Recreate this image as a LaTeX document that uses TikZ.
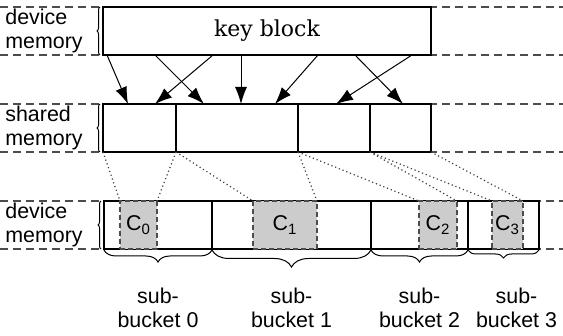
\documentclass[tikz,border=0pt]{standalone}
\usepackage{fontspec}
\setmainfont{Liberation Sans}
\newfontfamily\keyfont{DejaVu Serif}
\usepackage{tikz}
\usetikzlibrary{arrows.meta, calc, decorations.pathreplacing, positioning}
\definecolor{RuleGray}{gray}{0.30}
\definecolor{ChunkGray}{gray}{0.80}
\definecolor{DotGray}{gray}{0.25}
\tikzset{%
  mem_block/.style={%
    rectangle,%
    draw=black,%
    line width=0.7pt,%
    minimum height=24pt,%
    inner sep=0pt,%
    outer sep=0pt,%
    anchor=west,%
  },
  mem_chunk/.style={%
    rectangle,%
    draw=RuleGray,%
    fill=ChunkGray,%
    dash pattern=on 2.5pt off 1.5pt,%
    line width=0.7pt,%
    minimum height=24pt,%
    inner sep=0pt,%
    outer sep=0pt,%
    font={\fontsize{10.7pt}{12pt}\selectfont},%
  },
  mem_label/.style={%
    anchor=west,%
    inner sep=0pt,%
    align=left,%
    font={\fontsize{10.7pt}{12pt}\selectfont},%
  },
  bucket_label/.style={%
    inner sep=0pt,%
    align=center,%
    font={\fontsize{10.7pt}{12pt}\selectfont},%
  },
  guide_line/.style={%
    color=RuleGray,%
    line width=0.7pt,%
    dash pattern=on 4pt off 2.5pt,%
  },
  mem_arrow/.style={%
    color=black,%
    line width=0.5pt,%
  },
  map_path/.style={%
    color=DotGray,%
    line width=0.6pt,%
    dash pattern=on 0.6pt off 1.4pt,%
  },
  side_brace/.style={%
    decorate,%
    decoration={brace, amplitude=1.5pt, raise=1.5pt},%
    line width=0.5pt,%
  },
  sub_brace/.style={%
    decorate,%
    line width=0.5pt,%
  },
  arrow/.style={-{Latex[length=8.5pt, width=6pt]}},
}
\begin{document}
\begin{tikzpicture}[x=0.5pt, y=-0.5pt]

  \useasboundingbox (0,0) rectangle (563,336);

  % row guides
  \foreach \y in {7, 55, 104, 152, 201, 249} {
    \draw [guide_line] (0,\y) -- (563,\y);
  }

  \node [mem_label] (TopLabel) at (5,31) {device\\memory};
  \node [mem_label] (SharedLabel) at (5,128) {shared\\memory};
  \node [mem_label] (BottomLabel) at (5,225) {device\\memory};

  \node [mem_block, minimum width=164pt] (KeyBlock) at (103,31)
    {\keyfont\fontsize{11pt}{13pt}\selectfont key block};

  \node [mem_block, minimum width=36.5pt] (Shared0) at (103,128) {};
  \node [mem_block, minimum width=61pt, right = 0pt of Shared0] (Shared1) {};
  \node [mem_block, minimum width=36pt, right = 0pt of Shared1] (Shared2) {};
  \node [mem_block, minimum width=30.5pt, right = 0pt of Shared2] (Shared3) {};

  \node [mem_block, minimum width=54pt] (Bucket0) at (104,225) {};
  \node [mem_block, minimum width=79.5pt, right = 0pt of Bucket0] (Bucket1) {};
  \node [mem_block, minimum width=48.5pt, right = 0pt of Bucket1] (Bucket2) {};
  \node [mem_block, minimum width=35.5pt, right = 0pt of Bucket2] (Bucket3) {};

  \node [mem_chunk, minimum width=18.5pt] (Chunk0) at (138.5,225) {C\textsubscript{0}};
  \node [mem_chunk, minimum width=32pt] (Chunk1) at (285,225) {C\textsubscript{1}};
  \node [mem_chunk, minimum width=19pt] (Chunk2) at (438,225) {C\textsubscript{2}};
  \node [mem_chunk, minimum width=15.5pt] (Chunk3) at (507.5,225) {C\textsubscript{3}};

  \draw [side_brace] (KeyBlock.south west) -- (KeyBlock.north west);
  \draw [side_brace] (Shared0.south west) -- (Shared0.north west);
  \draw [side_brace] (Bucket0.south west) -- (Bucket0.north west);

  % key block to shared memory
  \draw [arrow, mem_arrow]
    ($(KeyBlock.south west)+(4,0)$) -- ($(Shared0.north west)+(25,0)$);
  \draw [arrow, mem_arrow]
    ($(KeyBlock.south west)+(110,0)$) -- ($(Shared0.north west)+(52,0)$);
  \draw [arrow, mem_arrow]
    ($(KeyBlock.south west)+(52,0)$) -- ($(Shared1.north west)+(28,0)$);
  \draw [arrow, mem_arrow]
    ($(KeyBlock.south west)+(138,0)$) -- ($(Shared1.north west)+(65,0)$);
  \draw [arrow, mem_arrow]
    ($(KeyBlock.south west)+(215,0)$) -- ($(Shared1.north west)+(99,0)$);
  \draw [arrow, mem_arrow]
    ($(KeyBlock.south west)+(309,0)$) -- ($(Shared2.north west)+(38,0)$);
  \draw [arrow, mem_arrow]
    ($(KeyBlock.south west)+(252,0)$) -- ($(Shared3.north west)+(33,0)$);

  % shared memory to chunks
  \draw [map_path] (Shared0.south west) -- (Chunk0.north west);
  \draw [map_path] (Shared0.south east) -- (Chunk0.north east);
  \draw [map_path] (Shared1.south west) -- (Chunk1.north west);
  \draw [map_path] (Shared1.south east) -- (Chunk1.north east);
  \draw [map_path] (Shared2.south west) -- (Chunk2.north west);
  \draw [map_path] (Shared2.south east) -- (Chunk2.north east);
  \draw [map_path] (Shared3.south west) -- (Chunk3.north west);
  \draw [map_path] (Shared3.south east) -- (Chunk3.north east);

  \draw [sub_brace, decoration={brace, amplitude=6pt, raise=0.5pt}]
    (Bucket0.south east) -- (Bucket0.south west);
  \draw [sub_brace, decoration={brace, amplitude=8.5pt, raise=0.5pt}]
    (Bucket1.south east) -- (Bucket1.south west);
  \draw [sub_brace, decoration={brace, amplitude=6pt, raise=0.5pt}]
    (Bucket2.south east) -- (Bucket2.south west);
  \draw [sub_brace, decoration={brace, amplitude=4pt, raise=0.5pt}]
    (Bucket3.south east) -- (Bucket3.south west);

  \node [bucket_label, below = 19.5pt of Bucket0] (SubLabel0) {sub-\\bucket 0};
  \node [bucket_label, below = 19.5pt of Bucket1] (SubLabel1) {sub-\\bucket 1};
  \node [bucket_label, below = 19.5pt of Bucket2] (SubLabel2) {sub-\\bucket 2};
  \node [bucket_label, below = 19.5pt of Bucket3, xshift=6.5pt] (SubLabel3) {sub-\\bucket 3};

\end{tikzpicture}
\end{document}
